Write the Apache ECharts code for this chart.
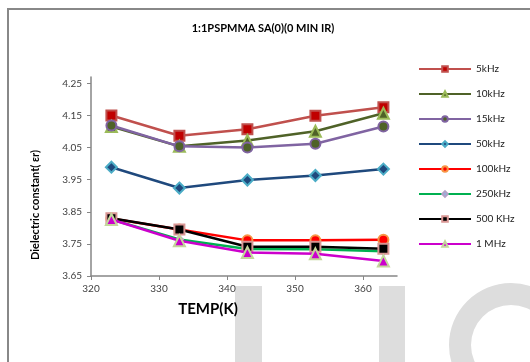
<!DOCTYPE html>
<html>
<head>
<meta charset="utf-8">
<script src="https://cdn.jsdelivr.net/npm/echarts@6/dist/echarts.min.js"></script>
<style>html,body{margin:0;padding:0;background:#fff;}#c{width:530px;height:362px;}</style>
</head>
<body>
<div id="c"></div>
<script>
const temps = [323, 333, 343, 353, 363];
const k5   = [4.150, 4.087, 4.107, 4.149, 4.176];
const k10  = [4.116, 4.054, 4.072, 4.101, 4.157];
const k15  = [4.119, 4.054, 4.050, 4.062, 4.116];
const k50  = [3.989, 3.924, 3.949, 3.963, 3.983];
const k100 = [3.829, 3.795, 3.761, 3.761, 3.763];
const k250 = [3.826, 3.764, 3.734, 3.733, 3.727];
const k500 = [3.830, 3.795, 3.741, 3.741, 3.735];
const m1   = [3.826, 3.760, 3.723, 3.719, 3.697];
const seriesNames = ['5kHz', '10kHz', '15kHz', '50kHz', '100kHz', '250kHz', '500 KHz', '1 MHz'];
const xTicks = [320, 330, 340, 350, 360];
const yTicks = [3.65, 3.75, 3.85, 3.95, 4.05, 4.15, 4.25];

const styles = [
  {line: '#C0504D', fill: '#C00000', border: '#C0504D', symbol: 'rect', size: 10},
  {line: '#4F6228', fill: '#4F6228', border: '#9BBB59', symbol: 'triangle', size: 11},
  {line: '#8064A2', fill: '#4F6228', border: '#8064A2', symbol: 'circle', size: 10},
  {line: '#1F497D', fill: '#1F497D', border: '#4BACC6', symbol: 'diamond', size: 11},
  {line: '#FF0000', fill: '#FF0000', border: '#F79646', symbol: 'circle', size: 10},
  {line: '#00B050', fill: '#8EB4E3', border: '#B3A2C7', symbol: 'diamond', size: 7},
  {line: '#000000', fill: '#000000', border: '#D99694', symbol: 'rect', size: 10},
  {line: '#CC00CC', fill: '#CC00CC', border: '#C3D69B', symbol: 'triangle', size: 11}
];
const values = [k5, k10, k15, k50, k100, k250, k500, m1];

const series = values.map((vals, i) => ({
  name: seriesNames[i],
  type: 'line',
  data: temps.map((t, j) => [t, vals[j]]),
  symbol: styles[i].symbol,
  symbolSize: styles[i].size,
  showAllSymbol: true,
  lineStyle: {color: styles[i].line, width: 2.5},
  itemStyle: {color: styles[i].fill, borderColor: styles[i].border, borderWidth: 2},
  emphasis: {disabled: true},
  z: 2 + i
}));

const font = 'Lato, "Open Sans", sans-serif';
const chart = echarts.init(document.getElementById('c'), null, {renderer: 'canvas'});
chart.setOption({
  animation: false,
  backgroundColor: '#ffffff',
  textStyle: {fontFamily: font},
  grid: {left: 91, right: 133, top: 77, bottom: 86, containLabel: false},
  xAxis: {
    type: 'value', min: 320, max: 365,
    axisLine: {show: true, lineStyle: {color: '#868686', width: 1.5}},
    axisTick: {show: true, length: 4, inside: false, customValues: xTicks, lineStyle: {color: '#868686'}},
    axisLabel: {customValues: xTicks, color: '#404040', fontSize: 10, margin: 8, fontFamily: font},
    splitLine: {show: false}
  },
  yAxis: {
    type: 'value', min: 3.65, max: 4.27,
    axisLine: {show: true, lineStyle: {color: '#868686', width: 1.5}},
    axisTick: {show: true, length: 4, customValues: yTicks, lineStyle: {color: '#868686'}},
    axisLabel: {customValues: yTicks, color: '#404040', fontSize: 10, margin: 9, fontFamily: font,
      formatter: v => Number(v).toFixed(2)},
    splitLine: {show: false}
  },
  legend: {
    orient: 'vertical', left: 418, top: 63, padding: 0,
    itemWidth: 52, itemHeight: 7, itemGap: 13,
    data: seriesNames,
    textStyle: {fontSize: 10, lineHeight: 12, color: '#202020', fontFamily: font, padding: [0, 0, 0, 0]},
    selectedMode: false
  },
  graphic: [
    {type: 'rect', z: -10, shape: {x: 235, y: 286, width: 27, height: 90}, style: {fill: '#DDDDDD'}},
    {type: 'rect', z: -10, shape: {x: 379, y: 286, width: 26, height: 90}, style: {fill: '#DDDDDD'}},
    {type: 'ring', z: -10, shape: {cx: 511, cy: 345, r: 62, r0: 40}, style: {fill: '#DDDDDD'}},
    {type: 'rect', z: 100, shape: {x: 8, y: 9, width: 560, height: 420}, style: {fill: 'none', stroke: '#888888', lineWidth: 2}},
    {type: 'text', z: 100, x: 263, y: 28, style: {text: '1:1PSPMMA SA(0)(0 MIN IR)', font: 'bold 11px ' + font, fill: '#000', align: 'center', verticalAlign: 'middle'}},
    {type: 'text', z: 100, x: 208, y: 309, style: {text: 'TEMP(K)', font: 'bold 15px ' + font, fill: '#000', align: 'center', verticalAlign: 'middle'}},
    {type: 'text', z: 100, x: 35, y: 205, rotation: Math.PI / 2, style: {text: 'Dielectric constant( εr)', font: 'bold 11px ' + font, fill: '#000', align: 'center', verticalAlign: 'middle'}}
  ],
  series: series
});
</script>
</body>
</html>
